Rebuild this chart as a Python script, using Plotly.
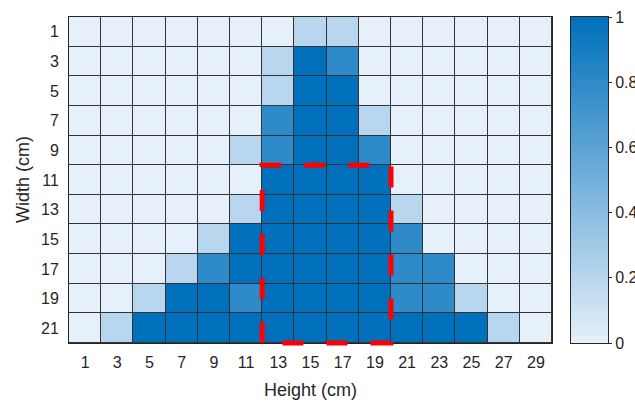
import plotly.graph_objects as go

x_vals = [1, 3, 5, 7, 9, 11, 13, 15, 17, 19, 21, 23, 25, 27, 29]
y_vals = [1, 3, 5, 7, 9, 11, 13, 15, 17, 19, 21]

# rows y = 1 .. 21 ; columns x = 1 .. 29
z_rows = [
    [0, 0, 0, 0, 0, 0, 0, 0.2, 0.2, 0, 0, 0, 0, 0, 0],
    [0, 0, 0, 0, 0, 0, 0.2, 1, 0.8, 0, 0, 0, 0, 0, 0],
    [0, 0, 0, 0, 0, 0, 0.2, 1, 1, 0, 0, 0, 0, 0, 0],
    [0, 0, 0, 0, 0, 0, 0.8, 1, 1, 0.2, 0, 0, 0, 0, 0],
    [0, 0, 0, 0, 0, 0.2, 0.8, 1, 1, 0.8, 0, 0, 0, 0, 0],
    [0, 0, 0, 0, 0, 0, 1, 1, 1, 1, 0, 0, 0, 0, 0],
    [0, 0, 0, 0, 0, 0.2, 1, 1, 1, 1, 0.2, 0, 0, 0, 0],
    [0, 0, 0, 0, 0.2, 1, 1, 1, 1, 1, 0.8, 0, 0, 0, 0],
    [0, 0, 0, 0.2, 0.8, 1, 1, 1, 1, 1, 0.8, 0.8, 0, 0, 0],
    [0, 0, 0.2, 1, 1, 0.8, 1, 1, 1, 1, 0.8, 0.8, 0.2, 0, 0],
    [0, 0.2, 1, 1, 1, 1, 1, 1, 1, 1, 1, 1, 1, 0.2, 0],
]

x_ticks = [1, 3, 5, 7, 9, 11, 13, 15, 17, 19, 21, 23, 25, 27, 29]
y_ticks = [1, 3, 5, 7, 9, 11, 13, 15, 17, 19, 21]
cb_ticks = [0, 0.2, 0.4, 0.6, 0.8, 1]
cb_ends = [0, 1]

# highlighted region (data units)
box_x = [12, 20]
box_y = [10, 22]

x_range = [0, 30]
y_range = [22, 0]

FONT = "Liberation Sans, Arial, sans-serif"
TXT = "#262626"
CSCALE = [[0, "#e6f0fa"], [1, "#0070bc"]]

W, H = 635, 402
L, T, R, B = 69, 17, 0, 59
PW, PH = W - L - R, H - T - B
main_right = 552
cb_left, cb_right = 571, 608


def y_to_paper(v):
    # the main y axis spans the full paper height, so map through its range
    return (v - y_range[0]) / (y_range[1] - y_range[0])


fig = go.Figure()
fig.add_trace(go.Heatmap(
    x=x_vals, y=y_vals, z=z_rows,
    zmin=0, zmax=1, colorscale=CSCALE, showscale=False,
    xgap=1, ygap=1, hoverinfo="skip",
    xaxis="x", yaxis="y",
))

# colour bar drawn as a smooth two-stop heatmap on its own axes
fig.add_trace(go.Heatmap(
    x=[0, 1], y=cb_ends, z=[[v, v] for v in cb_ends],
    zmin=0, zmax=1, colorscale=CSCALE, showscale=False,
    zsmooth="best", hoverinfo="skip",
    xaxis="x2", yaxis="y2",
))

# dashed red outline of the highlighted region (y in paper units so the
# bottom edge is not clipped at the axis line)
yb, yt = y_to_paper(box_y[1]), y_to_paper(box_y[0])
fig.add_shape(
    type="path",
    path=f"M {box_x[0]},{yb} L {box_x[0]},{yt} L {box_x[1]},{yt} L {box_x[1]},{yb} Z",
    xref="x", yref="paper", layer="above",
    line=dict(color="#ff0000", width=5, dash="21px,23px"),
)

fig.update_layout(
    width=W, height=H,
    margin=dict(l=L, r=R, t=T, b=B, autoexpand=False),
    paper_bgcolor="white",
    plot_bgcolor="#333333",
    font=dict(family=FONT, size=16, color=TXT),
    showlegend=False,
    xaxis=dict(
        domain=[0, (main_right - L) / PW], anchor="y",
        range=x_range, tickvals=x_ticks, ticktext=[str(t) for t in x_ticks],
        showgrid=False, zeroline=False, showline=True, mirror=True,
        linecolor="#262626", linewidth=1, ticks="", ticklabelstandoff=5,
        automargin=False, tickfont=dict(size=16),
    ),
    yaxis=dict(
        domain=[0, 1], anchor="x",
        range=y_range, tickvals=y_ticks, ticktext=[str(t) for t in y_ticks],
        showgrid=False, zeroline=False, showline=True, mirror=True,
        linecolor="#262626", linewidth=1, ticks="", ticklabelstandoff=6,
        automargin=False, tickfont=dict(size=16),
    ),
    xaxis2=dict(
        domain=[(cb_left - L) / PW, (cb_right - L) / PW], anchor="y2",
        range=[0, 1], showticklabels=False, ticks="",
        showgrid=False, zeroline=False, showline=True, mirror=True,
        linecolor="#262626", linewidth=1, automargin=False,
    ),
    yaxis2=dict(
        domain=[0, 1], anchor="x2", side="right",
        range=[0, 1], tickvals=cb_ticks, ticktext=[f"{v:g}" for v in cb_ticks],
        ticks="outside", ticklen=3, tickcolor="#262626",
        showgrid=False, zeroline=False, showline=True, mirror=True,
        linecolor="#262626", linewidth=1, automargin=False,
        tickfont=dict(size=16),
    ),
    annotations=[
        dict(text="Height (cm)", xref="paper", yref="paper",
             x=((L + main_right) / 2 - L) / PW, y=-(390 - (H - B)) / PH,
             xanchor="center", yanchor="middle", showarrow=False,
             font=dict(size=18, family=FONT, color=TXT)),
        dict(text="Width (cm)", xref="paper", yref="paper",
             x=(23 - L) / PW, y=0.5, textangle=-90,
             xanchor="center", yanchor="middle", showarrow=False,
             font=dict(size=18, family=FONT, color=TXT)),
    ],
)

fig.write_html(
    "out.html",
    config={"displayModeBar": False},
    post_script="document.body.style.margin='0px';document.body.style.overflow='hidden';",
)
